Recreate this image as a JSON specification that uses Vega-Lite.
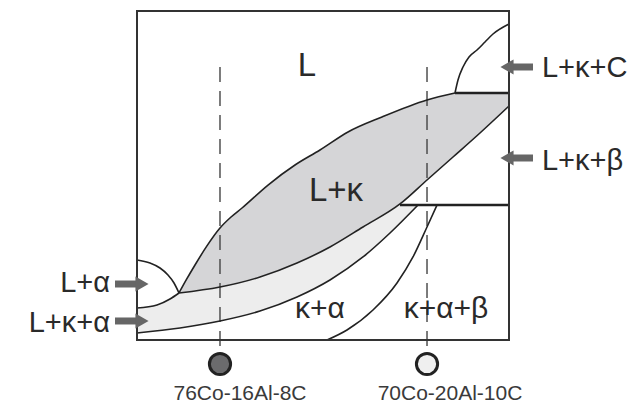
{
  "$schema": "https://vega.github.io/schema/vega-lite/v6.json",
  "width": 372,
  "height": 329,
  "autosize": {"type": "none"},
  "padding": {"left": 137, "top": 11, "right": 122, "bottom": 65},
  "background": "white",
  "config": {"view": {"stroke": null}},
  "datasets": {
    "regions": [
      {"region": "L+κ", "i": 1, "x": 11.29, "y": 14.29},
      {"region": "L+κ", "i": 2, "x": 13.30, "y": 18.40},
      {"region": "L+κ", "i": 3, "x": 15.59, "y": 22.80},
      {"region": "L+κ", "i": 4, "x": 18.80, "y": 28.60},
      {"region": "L+κ", "i": 5, "x": 22.31, "y": 34.04},
      {"region": "L+κ", "i": 6, "x": 25.20, "y": 37.30},
      {"region": "L+κ", "i": 7, "x": 28.23, "y": 40.12},
      {"region": "L+κ", "i": 8, "x": 35.22, "y": 47.11},
      {"region": "L+κ", "i": 9, "x": 42.47, "y": 53.19},
      {"region": "L+κ", "i": 10, "x": 49.19, "y": 57.75},
      {"region": "L+κ", "i": 11, "x": 56.72, "y": 63.22},
      {"region": "L+κ", "i": 12, "x": 65.86, "y": 67.78},
      {"region": "L+κ", "i": 13, "x": 77.96, "y": 72.95},
      {"region": "L+κ", "i": 14, "x": 85.48, "y": 75.08},
      {"region": "L+κ", "i": 15, "x": 100, "y": 75.08},
      {"region": "L+κ", "i": 16, "x": 100, "y": 71.12},
      {"region": "L+κ", "i": 17, "x": 92.20, "y": 62.92},
      {"region": "L+κ", "i": 18, "x": 84.95, "y": 55.62},
      {"region": "L+κ", "i": 19, "x": 77.96, "y": 48.63},
      {"region": "L+κ", "i": 20, "x": 70.70, "y": 41.34},
      {"region": "L+κ", "i": 21, "x": 60.75, "y": 34.35},
      {"region": "L+κ", "i": 22, "x": 51.88, "y": 28.27},
      {"region": "L+κ", "i": 23, "x": 43.01, "y": 23.40},
      {"region": "L+κ", "i": 24, "x": 33.06, "y": 19.15},
      {"region": "L+κ", "i": 25, "x": 22.31, "y": 16.11},
      {"region": "L+κ+α", "i": 1, "x": 0, "y": 9.73},
      {"region": "L+κ+α", "i": 2, "x": 5.38, "y": 10.64},
      {"region": "L+κ+α", "i": 3, "x": 8.87, "y": 12.46},
      {"region": "L+κ+α", "i": 4, "x": 11.29, "y": 14.29},
      {"region": "L+κ+α", "i": 5, "x": 22.31, "y": 16.11},
      {"region": "L+κ+α", "i": 6, "x": 33.06, "y": 19.15},
      {"region": "L+κ+α", "i": 7, "x": 43.01, "y": 23.40},
      {"region": "L+κ+α", "i": 8, "x": 51.88, "y": 28.27},
      {"region": "L+κ+α", "i": 9, "x": 60.75, "y": 34.35},
      {"region": "L+κ+α", "i": 10, "x": 70.70, "y": 41.34},
      {"region": "L+κ+α", "i": 11, "x": 75.54, "y": 41.03},
      {"region": "L+κ+α", "i": 12, "x": 68.01, "y": 32.52},
      {"region": "L+κ+α", "i": 13, "x": 60.75, "y": 25.23},
      {"region": "L+κ+α", "i": 14, "x": 51.88, "y": 18.24},
      {"region": "L+κ+α", "i": 15, "x": 43.01, "y": 13.07},
      {"region": "L+κ+α", "i": 16, "x": 33.06, "y": 8.81},
      {"region": "L+κ+α", "i": 17, "x": 22.31, "y": 5.78},
      {"region": "L+κ+α", "i": 18, "x": 11.56, "y": 3.65},
      {"region": "L+κ+α", "i": 19, "x": 0, "y": 2.13}
    ],
    "curves": [
      {"c": "liquidus", "x": 11.29, "y": 14.29},
      {"c": "liquidus", "x": 13.30, "y": 18.40},
      {"c": "liquidus", "x": 15.59, "y": 22.80},
      {"c": "liquidus", "x": 18.80, "y": 28.60},
      {"c": "liquidus", "x": 22.31, "y": 34.04},
      {"c": "liquidus", "x": 25.20, "y": 37.30},
      {"c": "liquidus", "x": 28.23, "y": 40.12},
      {"c": "liquidus", "x": 35.22, "y": 47.11},
      {"c": "liquidus", "x": 42.47, "y": 53.19},
      {"c": "liquidus", "x": 49.19, "y": 57.75},
      {"c": "liquidus", "x": 56.72, "y": 63.22},
      {"c": "liquidus", "x": 65.86, "y": 67.78},
      {"c": "liquidus", "x": 77.96, "y": 72.95},
      {"c": "liquidus", "x": 85.48, "y": 75.08},
      {"c": "carbide", "x": 85.48, "y": 75.08},
      {"c": "carbide", "x": 86.29, "y": 79.03},
      {"c": "carbide", "x": 87.63, "y": 82.98},
      {"c": "carbide", "x": 89.25, "y": 86.02},
      {"c": "carbide", "x": 91.40, "y": 88.15},
      {"c": "carbide", "x": 93.55, "y": 90.58},
      {"c": "carbide", "x": 95.70, "y": 93.01},
      {"c": "carbide", "x": 100, "y": 96.05},
      {"c": "kappa-solidus", "x": 11.29, "y": 14.29},
      {"c": "kappa-solidus", "x": 22.31, "y": 16.11},
      {"c": "kappa-solidus", "x": 33.06, "y": 19.15},
      {"c": "kappa-solidus", "x": 43.01, "y": 23.40},
      {"c": "kappa-solidus", "x": 51.88, "y": 28.27},
      {"c": "kappa-solidus", "x": 60.75, "y": 34.35},
      {"c": "kappa-solidus", "x": 70.70, "y": 41.34},
      {"c": "kappa-solidus", "x": 77.96, "y": 48.63},
      {"c": "kappa-solidus", "x": 84.95, "y": 55.62},
      {"c": "kappa-solidus", "x": 92.20, "y": 62.92},
      {"c": "kappa-solidus", "x": 100, "y": 71.12},
      {"c": "solidus", "x": 0, "y": 2.13},
      {"c": "solidus", "x": 11.56, "y": 3.65},
      {"c": "solidus", "x": 22.31, "y": 5.78},
      {"c": "solidus", "x": 33.06, "y": 8.81},
      {"c": "solidus", "x": 43.01, "y": 13.07},
      {"c": "solidus", "x": 51.88, "y": 18.24},
      {"c": "solidus", "x": 60.75, "y": 25.23},
      {"c": "solidus", "x": 68.01, "y": 32.52},
      {"c": "solidus", "x": 75.54, "y": 41.03},
      {"c": "alpha-kappa", "x": 0, "y": 9.73},
      {"c": "alpha-kappa", "x": 5.38, "y": 10.64},
      {"c": "alpha-kappa", "x": 8.87, "y": 12.46},
      {"c": "alpha-kappa", "x": 11.29, "y": 14.29},
      {"c": "alpha-liquidus", "x": 0, "y": 24.32},
      {"c": "alpha-liquidus", "x": 3.49, "y": 23.40},
      {"c": "alpha-liquidus", "x": 6.18, "y": 21.88},
      {"c": "alpha-liquidus", "x": 8.33, "y": 19.76},
      {"c": "alpha-liquidus", "x": 9.95, "y": 17.33},
      {"c": "alpha-liquidus", "x": 11.29, "y": 14.29},
      {"c": "beta", "x": 51.08, "y": 0},
      {"c": "beta", "x": 56.45, "y": 3.04},
      {"c": "beta", "x": 63.44, "y": 9.12},
      {"c": "beta", "x": 69.89, "y": 17.33},
      {"c": "beta", "x": 74.19, "y": 25.23},
      {"c": "beta", "x": 77.96, "y": 34.35},
      {"c": "beta", "x": 80.65, "y": 41.03}
    ],
    "isotherms": [
      {"x": 85.48, "x2": 100, "y": 75.08},
      {"x": 70.70, "x2": 100, "y": 41.03}
    ],
    "alloys": [
      {"alloy": "76Co-16Al-8C", "x": 22.31, "top": 82.98, "bottom": -2.13, "y": -7.29, "lx": 27.69, "ly": -18.24},
      {"alloy": "70Co-20Al-10C", "x": 77.96, "top": 82.98, "bottom": -2.13, "y": -7.29, "lx": 84.14, "ly": -18.24}
    ],
    "arrows": [
      {"phase": "L+α", "side": "left", "x": -5.91, "x2": 0.27, "hx": 1.34, "y": 17.02},
      {"phase": "L+κ+α", "side": "left", "x": -5.91, "x2": 0.27, "hx": 1.34, "y": 5.78},
      {"phase": "L+κ+C", "side": "right", "x": 106.45, "x2": 100.81, "hx": 99.46, "y": 82.98},
      {"phase": "L+κ+β", "side": "right", "x": 106.45, "x2": 100.81, "hx": 99.46, "y": 55.32}
    ],
    "labels": [
      {"kind": "big", "t": "L", "x": 45.70, "y": 80.24},
      {"kind": "big", "t": "L+κ", "x": 53.49, "y": 42.25},
      {"kind": "mid", "t": "κ+α", "x": 49.19, "y": 6.69},
      {"kind": "mid", "t": "κ+α+β", "x": 83.06, "y": 6.69},
      {"kind": "leftside", "t": "L+α", "x": -7.26, "y": 14.59},
      {"kind": "leftside", "t": "L+κ+α", "x": -7.26, "y": 2.43},
      {"kind": "rightside", "t": "L+κ+C", "x": 108.87, "y": 79.94},
      {"kind": "rightside", "t": "L+κ+β", "x": 108.87, "y": 51.67}
    ],
    "frame": [{"x": 0, "y": 0, "x2": 100, "y2": 100}]
  },
  "layer": [
    {
      "data": {"name": "regions"},
      "transform": [{"filter": "datum.region === 'L+κ'"}],
      "mark": {"type": "line", "interpolate": "linear-closed", "fill": "#d5d5d7", "stroke": null, "strokeWidth": 0},
      "encoding": {
        "x": {"field": "x", "type": "quantitative", "scale": {"domain": [0, 100], "nice": false, "zero": false}, "axis": null},
        "y": {"field": "y", "type": "quantitative", "scale": {"domain": [0, 100], "nice": false, "zero": false}, "axis": null},
        "order": {"field": "i"}
      }
    },
    {
      "data": {"name": "regions"},
      "transform": [{"filter": "datum.region === 'L+κ+α'"}],
      "mark": {"type": "line", "interpolate": "linear-closed", "fill": "#ededed", "stroke": null, "strokeWidth": 0},
      "encoding": {
        "x": {"field": "x", "type": "quantitative"},
        "y": {"field": "y", "type": "quantitative"},
        "order": {"field": "i"}
      }
    },
    {
      "data": {"name": "alloys"},
      "mark": {"type": "rule", "color": "#444", "strokeWidth": 1.4, "strokeDash": [15, 9]},
      "encoding": {
        "x": {"field": "x", "type": "quantitative"},
        "y": {"field": "top", "type": "quantitative"},
        "y2": {"field": "bottom"}
      }
    },
    {
      "data": {"name": "curves"},
      "mark": {"type": "line", "color": "#222", "strokeWidth": 1.6, "interpolate": "monotone"},
      "encoding": {
        "x": {"field": "x", "type": "quantitative"},
        "y": {"field": "y", "type": "quantitative"},
        "detail": {"field": "c"}
      }
    },
    {
      "data": {"name": "isotherms"},
      "mark": {"type": "rule", "color": "#222", "strokeWidth": 2.6},
      "encoding": {
        "x": {"field": "x", "type": "quantitative"},
        "x2": {"field": "x2"},
        "y": {"field": "y", "type": "quantitative"}
      }
    },
    {
      "data": {"name": "frame"},
      "mark": {"type": "rect", "fill": null, "stroke": "#333", "strokeWidth": 2},
      "encoding": {
        "x": {"field": "x", "type": "quantitative"},
        "x2": {"field": "x2"},
        "y": {"field": "y", "type": "quantitative"},
        "y2": {"field": "y2"}
      }
    },
    {
      "data": {"name": "arrows"},
      "mark": {"type": "rule", "color": "#666", "strokeWidth": 7},
      "encoding": {
        "x": {"field": "x", "type": "quantitative"},
        "x2": {"field": "x2"},
        "y": {"field": "y", "type": "quantitative"}
      }
    },
    {
      "data": {"name": "arrows"},
      "mark": {"type": "point", "filled": true, "color": "#666", "size": 230, "opacity": 1},
      "encoding": {
        "x": {"field": "hx", "type": "quantitative"},
        "y": {"field": "y", "type": "quantitative"},
        "shape": {"field": "side", "type": "nominal", "scale": {"domain": ["left", "right"], "range": ["triangle-right", "triangle-left"]}, "legend": null}
      }
    },
    {
      "data": {"name": "alloys"},
      "mark": {"type": "point", "filled": true, "size": 450, "stroke": "#222", "strokeWidth": 3, "opacity": 1},
      "encoding": {
        "x": {"field": "x", "type": "quantitative"},
        "y": {"field": "y", "type": "quantitative"},
        "fill": {"field": "alloy", "type": "nominal", "scale": {"domain": ["76Co-16Al-8C", "70Co-20Al-10C"], "range": ["#6b6b6d", "#efefef"]}, "legend": null}
      }
    },
    {
      "data": {"name": "alloys"},
      "mark": {"type": "text", "font": "Liberation Sans", "fontSize": 21, "color": "#3a3a3a", "align": "center", "baseline": "alphabetic"},
      "encoding": {
        "x": {"field": "lx", "type": "quantitative"},
        "y": {"field": "ly", "type": "quantitative"},
        "text": {"field": "alloy"}
      }
    },
    {
      "data": {"name": "labels"},
      "transform": [{"filter": "datum.kind === 'big'"}],
      "mark": {"type": "text", "font": "Liberation Sans", "fontSize": 33, "color": "#2a2a2a", "align": "center", "baseline": "alphabetic"},
      "encoding": {
        "x": {"field": "x", "type": "quantitative"},
        "y": {"field": "y", "type": "quantitative"},
        "text": {"field": "t"}
      }
    },
    {
      "data": {"name": "labels"},
      "transform": [{"filter": "datum.kind === 'mid'"}],
      "mark": {"type": "text", "font": "Liberation Sans", "fontSize": 30, "color": "#2a2a2a", "align": "center", "baseline": "alphabetic"},
      "encoding": {
        "x": {"field": "x", "type": "quantitative"},
        "y": {"field": "y", "type": "quantitative"},
        "text": {"field": "t"}
      }
    },
    {
      "data": {"name": "labels"},
      "transform": [{"filter": "datum.kind === 'leftside'"}],
      "mark": {"type": "text", "font": "Liberation Sans", "fontSize": 29, "color": "#2a2a2a", "align": "right", "baseline": "alphabetic"},
      "encoding": {
        "x": {"field": "x", "type": "quantitative"},
        "y": {"field": "y", "type": "quantitative"},
        "text": {"field": "t"}
      }
    },
    {
      "data": {"name": "labels"},
      "transform": [{"filter": "datum.kind === 'rightside'"}],
      "mark": {"type": "text", "font": "Liberation Sans", "fontSize": 29, "color": "#2a2a2a", "align": "left", "baseline": "alphabetic"},
      "encoding": {
        "x": {"field": "x", "type": "quantitative"},
        "y": {"field": "y", "type": "quantitative"},
        "text": {"field": "t"}
      }
    }
  ]
}
